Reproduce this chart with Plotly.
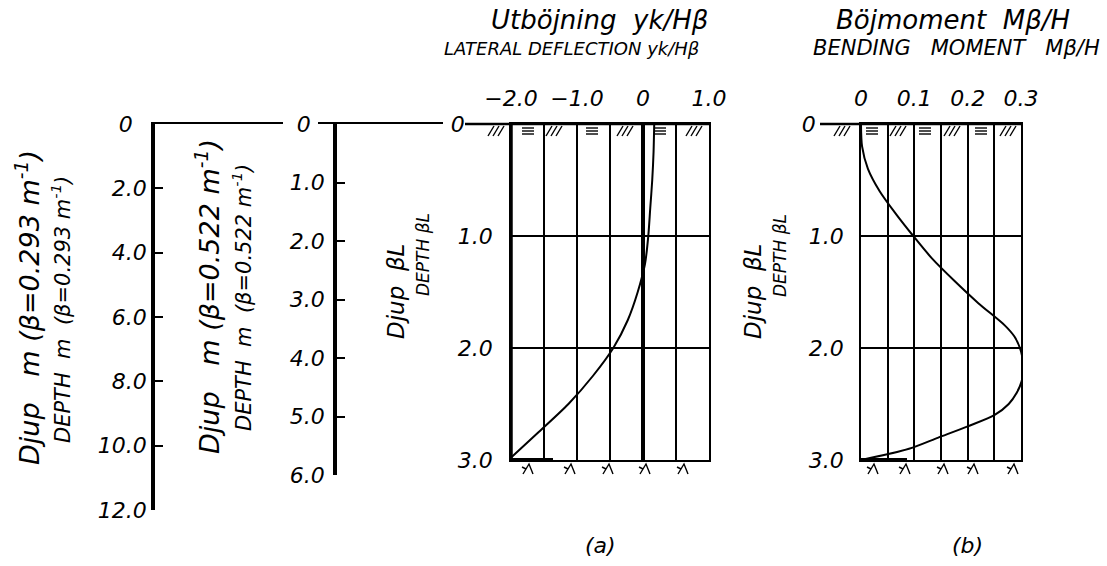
import plotly.graph_objects as go

W, H = 1107, 566

# Lateral deflection yk/Hβ along the pile, depth in βL
defl_depth = [0.0, 0.25, 0.5, 0.75, 1.0, 1.25, 1.5, 1.75, 2.0, 2.25, 2.5, 2.75, 3.0]
defl_value = [0.17, 0.16, 0.14, 0.11, 0.08, 0.03, -0.08, -0.23, -0.45, -0.76, -1.13, -1.58, -2.04]

# Bending moment Mβ/H along the pile, depth in βL
mom_depth = [0.0, 0.2, 0.4, 0.6, 0.8, 1.0, 1.2, 1.4, 1.6, 1.8, 1.9, 2.0, 2.1,
             2.2, 2.3, 2.4, 2.5, 2.6, 2.7, 2.8, 2.9, 3.0]
mom_value = [0.0, 0.002, 0.013, 0.035, 0.065, 0.098, 0.133, 0.175, 0.22, 0.27, 0.288,
             0.298, 0.303, 0.304, 0.301, 0.292, 0.277, 0.25, 0.2, 0.145, 0.09, 0.0]

NB = "\u00a0"
bl_ticks = [0, 1, 2, 3]
bl_labels = ["0", "1.0", "2.0", "3.0"]
defl_ticks = [-2.0, -1.5, -1.0, -0.5, 0.0, 0.5, 1.0]
defl_labels = ["−2.0", "", "−1.0", "", "0", "", "1.0"]
mom_ticks = [0.0, 0.05, 0.1, 0.15, 0.2, 0.25, 0.3]
mom_labels = ["0", "", "0.1", "", "0.2", "", "0.3"]
depth1_ticks = [0, 2, 4, 6, 8, 10, 12]
depth1_labels = ["0", "2.0", "4.0", "6.0", "8.0", "10.0", "12.0"]
depth2_ticks = [0, 1, 2, 3, 4, 5, 6]
depth2_labels = ["0", "1.0", "2.0", "3.0", "4.0", "5.0", "6.0"]

FONT = "DejaVu Sans"
INK = "black"


def px(x):
    return x / W


def py(y):
    return 1 - y / H


def pad_zero(labels, n):
    return [t + NB * n if t == "0" else t for t in labels]


fig = go.Figure()

fig.add_trace(go.Scatter(x=defl_value, y=defl_depth, mode="lines",
                         line=dict(color=INK, width=2, shape="spline", smoothing=0.8),
                         xaxis="x", yaxis="y", hoverinfo="skip", cliponaxis=False))
fig.add_trace(go.Scatter(x=mom_value, y=mom_depth, mode="lines",
                         line=dict(color=INK, width=2, shape="spline", smoothing=0.8),
                         xaxis="x2", yaxis="y2", hoverinfo="skip", cliponaxis=False))
# the two metre scales carry no curve; an invisible trace puts each one on the page
fig.add_trace(go.Scatter(x=[0] * len(depth1_ticks), y=depth1_ticks, mode="markers",
                         marker=dict(opacity=0), xaxis="x3", yaxis="y3", hoverinfo="skip"))
fig.add_trace(go.Scatter(x=[0] * len(depth2_ticks), y=depth2_ticks, mode="markers",
                         marker=dict(opacity=0), xaxis="x4", yaxis="y4", hoverinfo="skip"))

y_dom = [py(460), py(124)]
grid_common = dict(showgrid=True, gridcolor=INK, gridwidth=1.5, showline=True, mirror=True,
                   linecolor=INK, linewidth=1.5, ticks="", tickfont=dict(size=22))

fig.update_layout(
    width=W, height=H, margin=dict(l=0, r=0, t=0, b=0, pad=0, autoexpand=False),
    paper_bgcolor="white", plot_bgcolor="white", showlegend=False,
    font=dict(family=FONT, color=INK, style="italic"),
    # panel (a): deflection
    xaxis=dict(domain=[px(511), px(709)], range=[-2, 1], anchor="y", side="top",
               tickvals=defl_ticks, ticktext=defl_labels, ticklabelstandoff=7,
               zeroline=True, zerolinecolor=INK, zerolinewidth=3.5, automargin=False,
               **grid_common),
    yaxis=dict(domain=y_dom, range=[3, 0], anchor="x", tickvals=bl_ticks,
               ticktext=pad_zero(bl_labels, 4), ticklabelstandoff=12, zeroline=False,
               automargin=False, **grid_common),
    # panel (b): bending moment
    xaxis2=dict(domain=[px(861), px(1021)], range=[0, 0.3], anchor="y2", side="top",
                tickvals=mom_ticks, ticktext=mom_labels, ticklabelstandoff=7,
                zeroline=True, zerolinecolor=INK, zerolinewidth=3.5, automargin=False,
                **grid_common),
    yaxis2=dict(domain=y_dom, range=[3, 0], anchor="x2", tickvals=bl_ticks,
                ticktext=pad_zero(bl_labels, 4), ticklabelstandoff=11, zeroline=False,
                automargin=False, **grid_common),
    # depth scale in metres, β = 0.293 1/m
    xaxis3=dict(domain=[px(155), px(283)], range=[0, 1], anchor="y3", side="top",
                showline=True, linecolor=INK, linewidth=2, showgrid=False,
                zeroline=False, showticklabels=False, ticks="", automargin=False),
    yaxis3=dict(domain=[py(510), py(124)], range=[12, 0], anchor="x3",
                tickvals=depth1_ticks, ticktext=pad_zero(depth1_labels, 2),
                ticks="inside", ticklen=8, tickwidth=1.5, tickcolor=INK,
                showline=True, linecolor=INK, linewidth=3.5, showgrid=False,
                zeroline=False, tickfont=dict(size=22), ticklabelstandoff=0,
                automargin=False),
    # depth scale in metres, β = 0.522 1/m
    xaxis4=dict(domain=[px(318), px(443)], range=[0, 1], anchor="y4", side="top",
                showline=True, linecolor=INK, linewidth=2, showgrid=False,
                zeroline=False, showticklabels=False, ticks="", automargin=False),
    yaxis4=dict(domain=[py(475), py(124)], range=[6, 0], anchor="free",
                position=px(335), tickvals=depth2_ticks,
                ticktext=pad_zero(depth2_labels, 2),
                ticks="inside", ticklen=8, tickwidth=1.5, tickcolor=INK,
                showline=True, linecolor=INK, linewidth=3.5, showgrid=False,
                zeroline=False, tickfont=dict(size=22), ticklabelstandoff=4,
                automargin=False),
)

shapes = []


def pline(x0, y0, x1, y1, w):
    shapes.append(dict(type="line", xref="paper", yref="paper",
                       x0=px(x0), y0=py(y0), x1=px(x1), y1=py(y1),
                       line=dict(color=INK, width=w)))


# ground surface lines and thick pile edges
pline(465, 124, 709, 124, 2.5)
pline(820, 124, 1021, 124, 2.5)
pline(511, 124, 511, 460, 3.5)
pline(511, 460, 553, 460, 4)
pline(861, 460, 907, 460, 4)


def path(pts, w=1.4):
    d = "M " + " L ".join(f"{px(a):.5f},{py(b):.5f}" for a, b in pts)
    shapes.append(dict(type="path", xref="paper", yref="paper", path=d,
                       line=dict(color=INK, width=w)))


def soil(cx):
    for i in range(3):
        x = cx - 9 + i * 5
        path([(x, 136), (x + 6, 126)])


def water(cx):
    for dy in (128, 131, 134):
        path([(cx - 6, dy), (cx + 6, dy)])


def toe(cx):
    path([(cx - 5, 474), (cx + 1, 464), (cx + 5, 474)])
    path([(cx - 2, 469), (cx - 6, 467)])


for cx in (497, 555, 626, 695):
    soil(cx)
for cx in (528, 592, 660):
    water(cx)
for cx in (843, 899, 953, 1009):
    soil(cx)
for cx in (872, 925, 981):
    water(cx)
for cx in (528, 570, 608, 645, 683):
    toe(cx)
for cx in (873, 905, 943, 973, 1013):
    toe(cx)

fig.update_layout(shapes=shapes)

anns = []


def text(x, y, s, size, angle=0):
    anns.append(dict(xref="paper", yref="paper", x=px(x), y=py(y), text=s,
                     showarrow=False, textangle=angle, xanchor="center", yanchor="middle",
                     font=dict(size=size, family=FONT, color=INK, style="italic")))


text(599, 20, "Utböjning" + NB * 2 + "yk/Hβ", 26)
text(571, 48, "LATERAL DEFLECTION yk/Hβ", 18)
text(953, 20, "Böjmoment" + NB * 2 + "Mβ/H", 26)
text(956, 48, "BENDING" + NB * 3 + "MOMENT" + NB * 3 + "Mβ/H", 21)

text(27, 308, "Djup" + NB * 3 + "m (β=0.293 m<sup>-1</sup>)", 27, -90)
text(61, 310, "DEPTH" + NB * 2 + "m" + NB * 2 + "(β=0.293 m<sup>-1</sup>)", 21, -90)
text(207, 297, "Djup" + NB * 3 + "m (β=0.522 m<sup>-1</sup>)", 27, -90)
text(242, 297, "DEPTH" + NB * 2 + "m" + NB * 2 + "(β=0.522 m<sup>-1</sup>)", 21, -90)
text(396, 292, "Djup" + NB * 2 + "βL", 23, -90)
text(423, 255, "DEPTH βL", 17, -90)
text(753, 292, "Djup" + NB * 2 + "βL", 23, -90)
text(780, 255, "DEPTH βL", 17, -90)

text(600, 545, "(a)", 22)
text(967, 545, "(b)", 22)

fig.update_layout(annotations=anns)

fig.write_html("out.html")
